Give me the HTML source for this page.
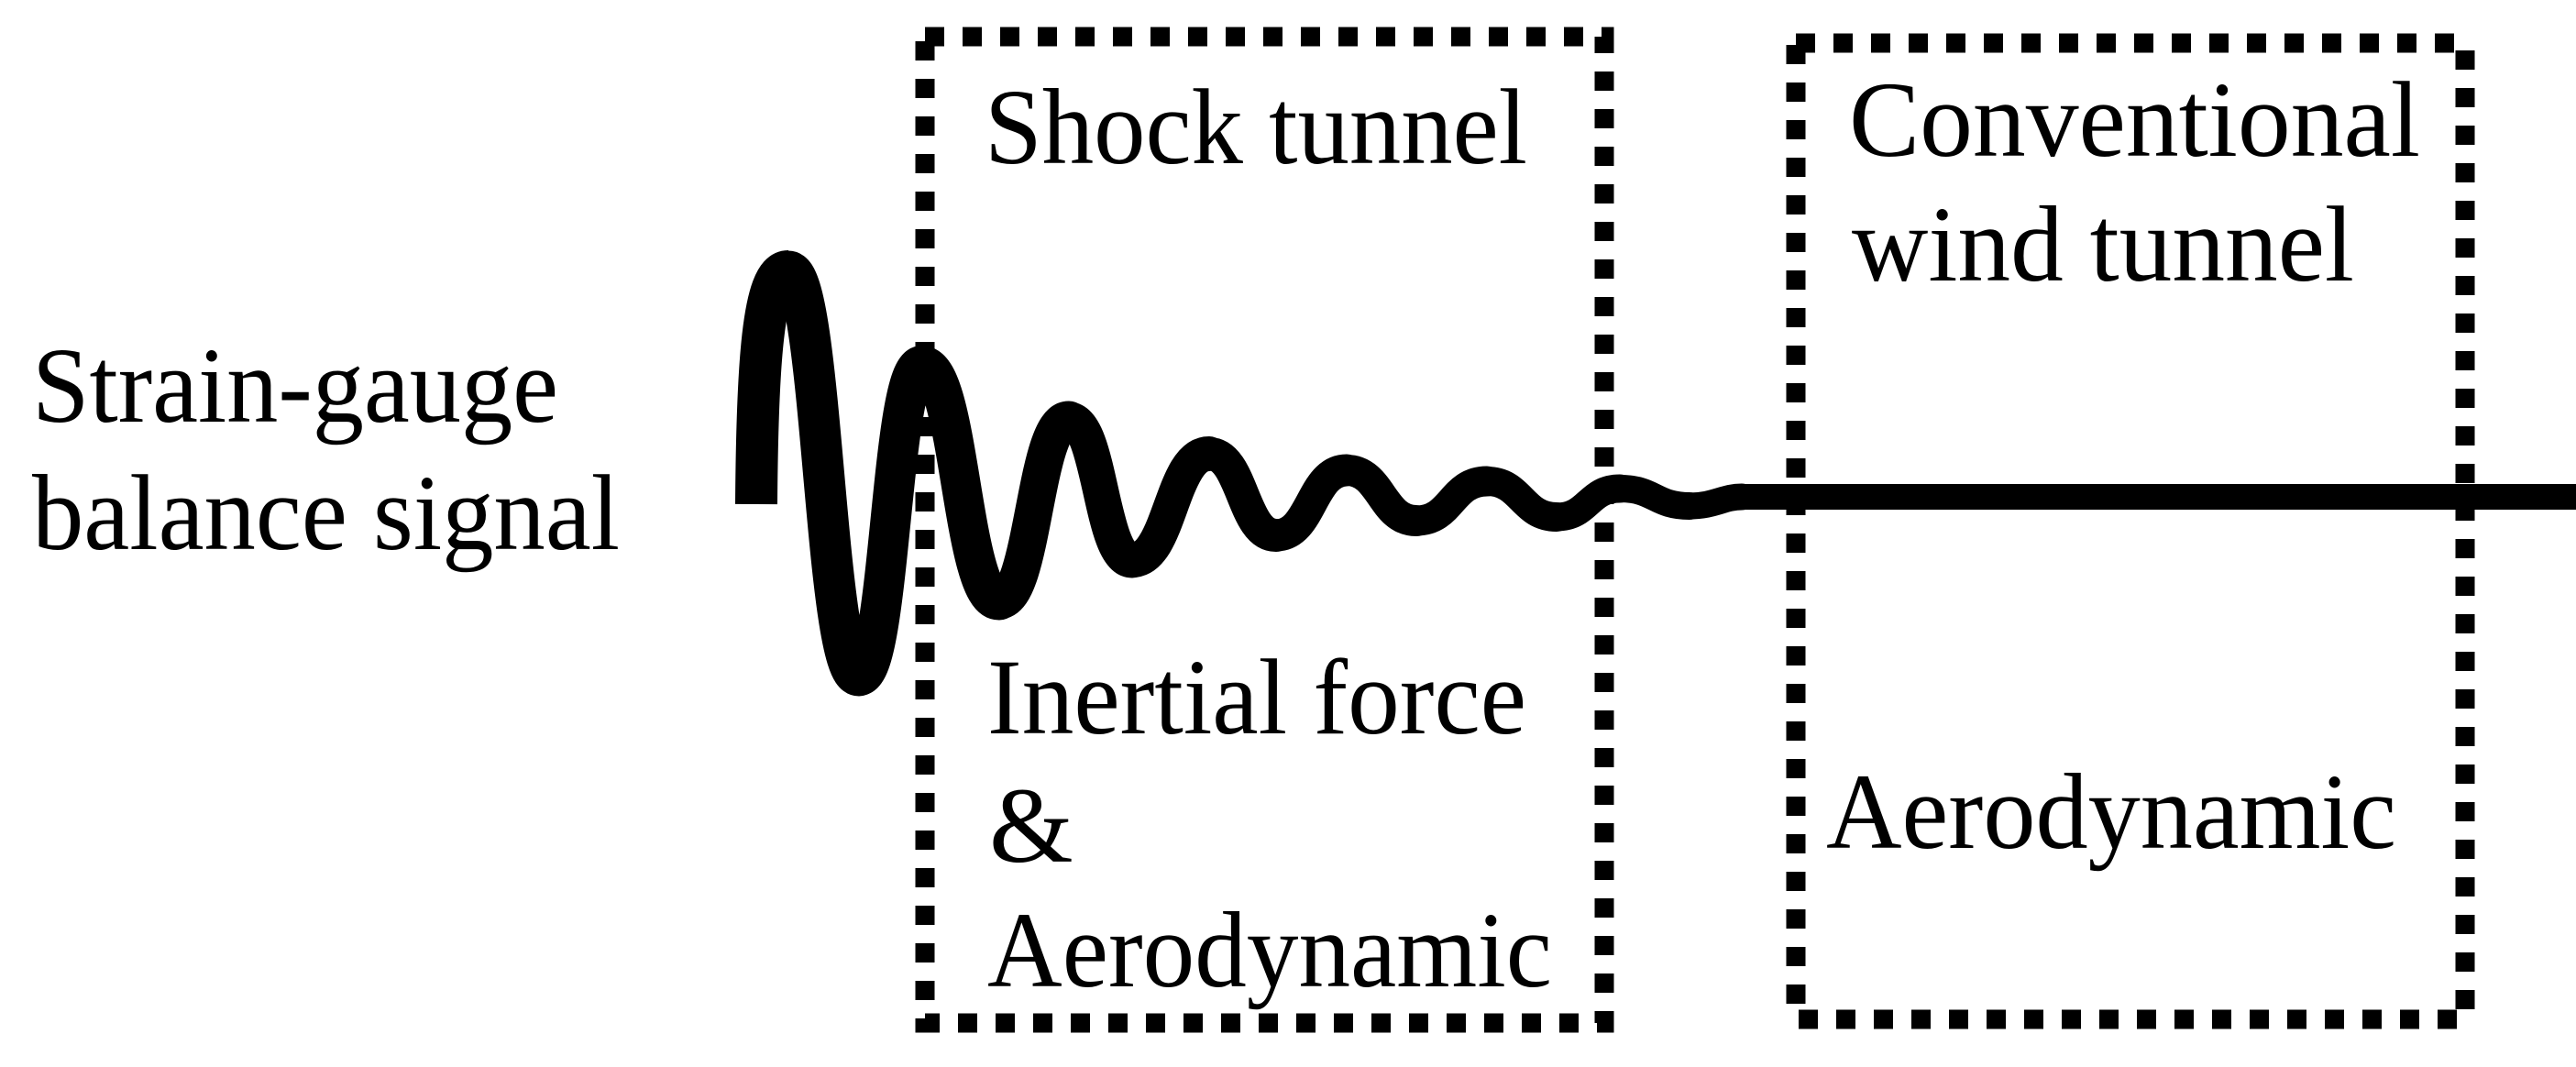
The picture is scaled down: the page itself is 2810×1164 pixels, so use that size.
<!DOCTYPE html>
<html><head><meta charset="utf-8"><style>
html,body{margin:0;padding:0;background:#fff;}
svg{display:block;}
text{font-family:"Liberation Serif",serif;font-size:118px;fill:#000;}
</style></head><body>
<svg width="2810" height="1164" viewBox="0 0 2810 1164" xmlns="http://www.w3.org/2000/svg">
<rect x="0" y="0" width="2810" height="1164" fill="#fff"/>
<g fill="none" stroke="#000" stroke-width="21" stroke-dasharray="21 20">
<rect x="1009" y="40" width="741" height="1076"/>
<rect x="1959" y="47" width="730" height="1065"/>
</g>
<g fill="none" stroke="#000" stroke-linecap="round" stroke-linejoin="round">
<path d="M825,550 C826,400 832,296 860,296" stroke-width="46" stroke-linecap="butt"/>
<path d="M860,296 C898,296 899,737 937,737" stroke-width="45"/>
<path d="M937,737 C972,737 971,399 1006,399" stroke-width="44"/>
<path d="M1006,399 C1048,399 1048,655 1090,655" stroke-width="43"/>
<path d="M1090,655 C1128,655 1128,458 1166,458" stroke-width="41"/>
<path d="M1166,458 C1201,458 1200,611 1235,611" stroke-width="39"/>
<path d="M1235,611 C1277,611 1277,495 1319,495" stroke-width="38"/>
<path d="M1319,495 C1356,495 1355,584 1392,584" stroke-width="36"/>
<path d="M1392,584 C1431,584 1430,513 1469,513" stroke-width="35"/>
<path d="M1469,513 C1507,513 1507,568 1545,568" stroke-width="34"/>
<path d="M1545,568 C1584,568 1583,525 1622,525" stroke-width="33"/>
<path d="M1622,525 C1660,525 1660,564 1698,564" stroke-width="32"/>
<path d="M1698,564 C1733,564 1732,533 1767,533" stroke-width="31"/>
<path d="M1767,533 C1805,533 1805,552 1843,552" stroke-width="30"/>
<path d="M1843,552 C1870,552 1880,542 1900,542" stroke-width="29"/>
</g>
<rect x="1897" y="528" width="913" height="28" fill="#000"/>
<text x="35" y="460" textLength="574" lengthAdjust="spacingAndGlyphs">Strain-gauge</text>
<text x="35" y="599" textLength="641" lengthAdjust="spacingAndGlyphs">balance signal</text>
<text x="1074" y="178" textLength="592" lengthAdjust="spacingAndGlyphs">Shock tunnel</text>
<text x="1077" y="800" textLength="588" lengthAdjust="spacingAndGlyphs">Inertial force</text>
<text x="1079" y="940">&amp;</text>
<text x="1077" y="1076" textLength="616" lengthAdjust="spacingAndGlyphs">Aerodynamic</text>
<text x="2017" y="170" textLength="623" lengthAdjust="spacingAndGlyphs">Conventional</text>
<text x="2020" y="306" textLength="548" lengthAdjust="spacingAndGlyphs">wind tunnel</text>
<text x="1992" y="925" textLength="622" lengthAdjust="spacingAndGlyphs">Aerodynamic</text>
</svg>
</body></html>
